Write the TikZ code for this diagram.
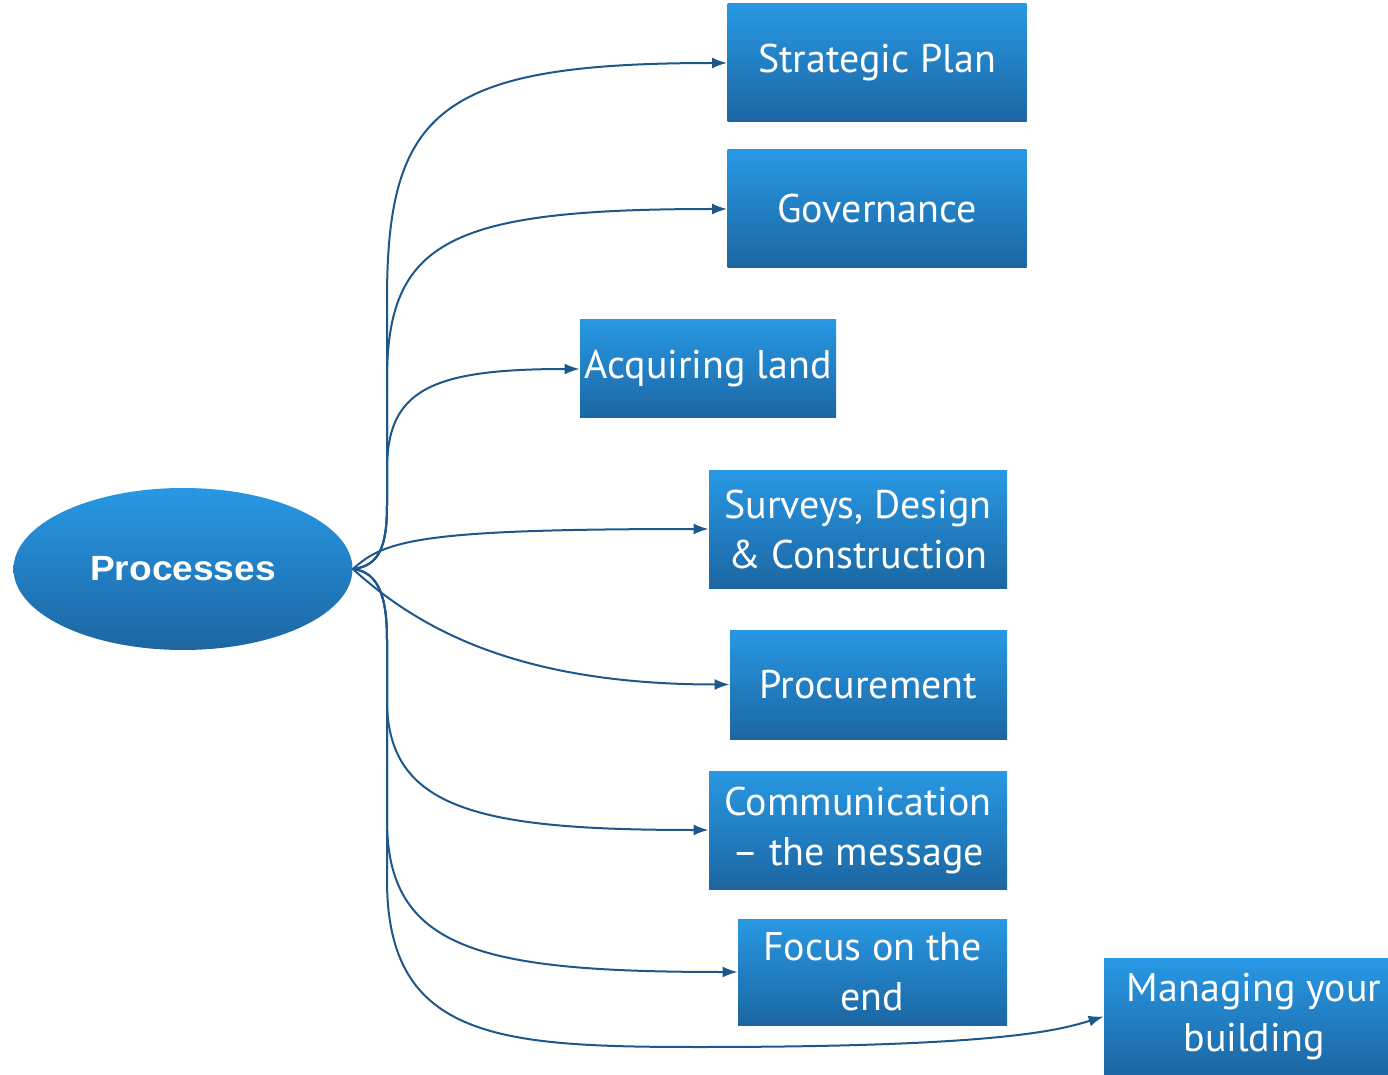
\documentclass[tikz,border=0pt]{standalone}
\usepackage{fontspec}
\setmainfont{PT Sans}
\newfontfamily\ellfont{Liberation Sans}
\usetikzlibrary{arrows.meta,shapes.geometric}
\definecolor{boxtop}{RGB}{40,152,228}
\definecolor{boxbot}{RGB}{28,102,162}
\definecolor{linkblue}{RGB}{30,88,138}
\begin{document}
\begin{tikzpicture}[x=0.5pt,y=-0.5pt,
  box/.style={rectangle,top color=boxtop,bottom color=boxbot,text=white,
    align=center,inner sep=0pt,font=\fontsize{20}{25}\selectfont},
  link/.style={draw=linkblue,line width=1pt,-{Latex[length=7.5pt,width=5.5pt]}}]
      \fill[white] (0,0) rectangle (1388,1075);
      \useasboundingbox (0,0) rectangle (1388,1075);
      % Nodo central
      \node[ellipse,top color=boxtop,bottom color=boxbot,text=white,inner sep=0pt,
        minimum width=169.5pt,minimum height=81pt,
        font=\ellfont\bfseries\fontsize{17.5}{21}\selectfont] (proc) at (183,569)
        {\scalebox{1.06}[1]{Processes}};
      % Cajas
      \node[box,minimum width=149.5pt,minimum height=59pt] (plan) at (877,63) {Strategic Plan};
      \node[box,minimum width=149.5pt,minimum height=59pt] (gov) at (877,209) {Governance};
      \node[box,minimum width=128pt,minimum height=49pt] (land) at (708,369) {Acquiring land};
      \node[box,minimum width=149pt,minimum height=59pt] (surv) at (858,529) {Surveys, Design\\\& Construction};
      \node[box,minimum width=138.5pt,minimum height=54.5pt] (procur) at (868.5,684.5) {Procurement};
      \node[box,minimum width=149pt,minimum height=59pt] (comm) at (858,830) {Communication\\– the message};
      \node[box,minimum width=134.5pt,minimum height=53pt] (focus) at (872.5,972) {Focus on the\\end};
      \node[box,minimum width=150pt,minimum height=58.5pt] (manage) at (1254,1016.5) {Managing your\\building};
      % Conectores
      \draw[link] (proc.east) .. controls (380,566) and (387,545) .. (387,505)
        -- (387,300) .. controls (387,110) and (440,63) .. (plan.west);
      \draw[link] (proc.east) .. controls (380,566) and (387,545) .. (387,505)
        -- (387,380) .. controls (387,240) and (450,209) .. (gov.west);
      \draw[link] (proc.east) .. controls (380,566) and (387,545) .. (387,505)
        -- (387,470) .. controls (387,390) and (430,369) .. (land.west);
      \draw[link] (proc.east) .. controls (385,540) and (420,529) .. (surv.west);
      \draw[link] (proc.east) .. controls (420,630) and (520,684.5) .. (procur.west);
      \draw[link] (proc.east) .. controls (380,572) and (387,600) .. (387,640)
        -- (387,700) .. controls (387,810) and (480,830) .. (comm.west);
      \draw[link] (proc.east) .. controls (380,572) and (387,600) .. (387,640)
        -- (387,820) .. controls (387,950) and (480,972) .. (focus.west);
      \draw[link] (proc.east) .. controls (380,572) and (387,600) .. (387,640)
        -- (387,880) .. controls (387,1040) and (500,1047) .. (700,1047)
        .. controls (1000,1047) and (1060,1030) .. (manage.west);
\end{tikzpicture}
\end{document}
